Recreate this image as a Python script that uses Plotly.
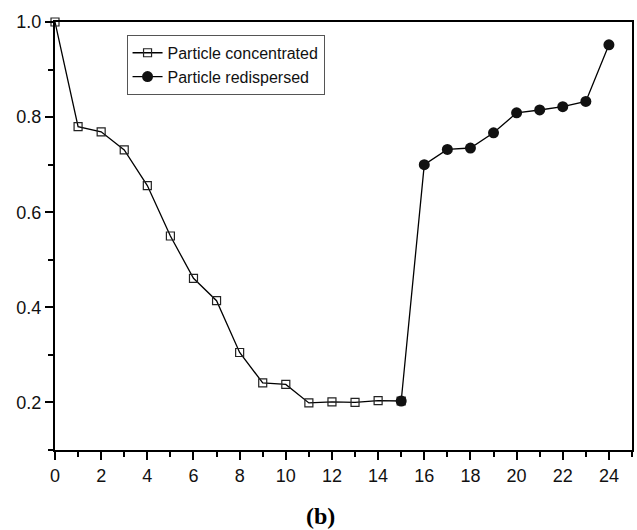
import plotly.graph_objects as go

conc_x = [0, 1, 2, 3, 4, 5, 6, 7, 8, 9, 10, 11, 12, 13, 14, 15]
conc_y = [1.0, 0.780, 0.769, 0.731, 0.656, 0.550, 0.461, 0.414, 0.305, 0.241, 0.238, 0.199, 0.201, 0.200, 0.204, 0.203]

red_x = [15, 16, 17, 18, 19, 20, 21, 22, 23, 24]
red_y = [0.203, 0.700, 0.732, 0.735, 0.767, 0.809, 0.815, 0.822, 0.833, 0.952]

x_ticks = list(range(0, 25, 2))
y_ticks = [0.2, 0.4, 0.6, 0.8, 1.0]

fig = go.Figure()
fig.add_trace(go.Scatter(
    x=conc_x, y=conc_y, mode="lines+markers", name="Particle concentrated",
    line=dict(color="black", width=1.3), cliponaxis=False,
    marker=dict(symbol="square-open", size=8, color="#222", line=dict(width=1.2)),
))
fig.add_trace(go.Scatter(
    x=red_x, y=red_y, mode="lines+markers", name="Particle redispersed",
    line=dict(color="black", width=1.3), cliponaxis=False,
    marker=dict(symbol="circle", size=11, color="#111"),
))

axis_common = dict(
    showline=True, linecolor="black", linewidth=2, mirror=True,
    ticks="outside", ticklen=8, tickwidth=2, tickcolor="black",
    showgrid=False, zeroline=False,
    tickfont=dict(family="Liberation Sans, Arial", size=18, color="#111"),
)

fig.update_xaxes(range=[0, 25], tickvals=x_ticks, ticktext=[str(v) for v in x_ticks],
                 minor=dict(ticks="outside", ticklen=5, tickwidth=2, tickcolor="black", dtick=1, tick0=0),
                 **axis_common)
fig.update_yaxes(range=[0.1, 1.0], tickvals=y_ticks, ticktext=["%.1f" % v for v in y_ticks],
                 minor=dict(ticks="outside", ticklen=5, tickwidth=2, tickcolor="black", dtick=0.1, tick0=0),
                 **axis_common)

fig.add_annotation(text="<b>(b)</b>", x=0.461, y=-0.154, xref="paper", yref="paper",
                   showarrow=False, xanchor="center", yanchor="middle",
                   font=dict(family="Liberation Serif, Times New Roman", size=24, color="black"))

fig.update_layout(
    width=637, height=530,
    margin=dict(l=55, r=3, t=22, b=80),
    plot_bgcolor="white", paper_bgcolor="white",
    legend=dict(x=0.124, y=0.97, xanchor="left", yanchor="top",
                bgcolor="white", bordercolor="#555", borderwidth=1,
                font=dict(family="Liberation Sans, Arial", size=16, color="#111"),
                itemwidth=30),
)

fig.write_html("out.html")
